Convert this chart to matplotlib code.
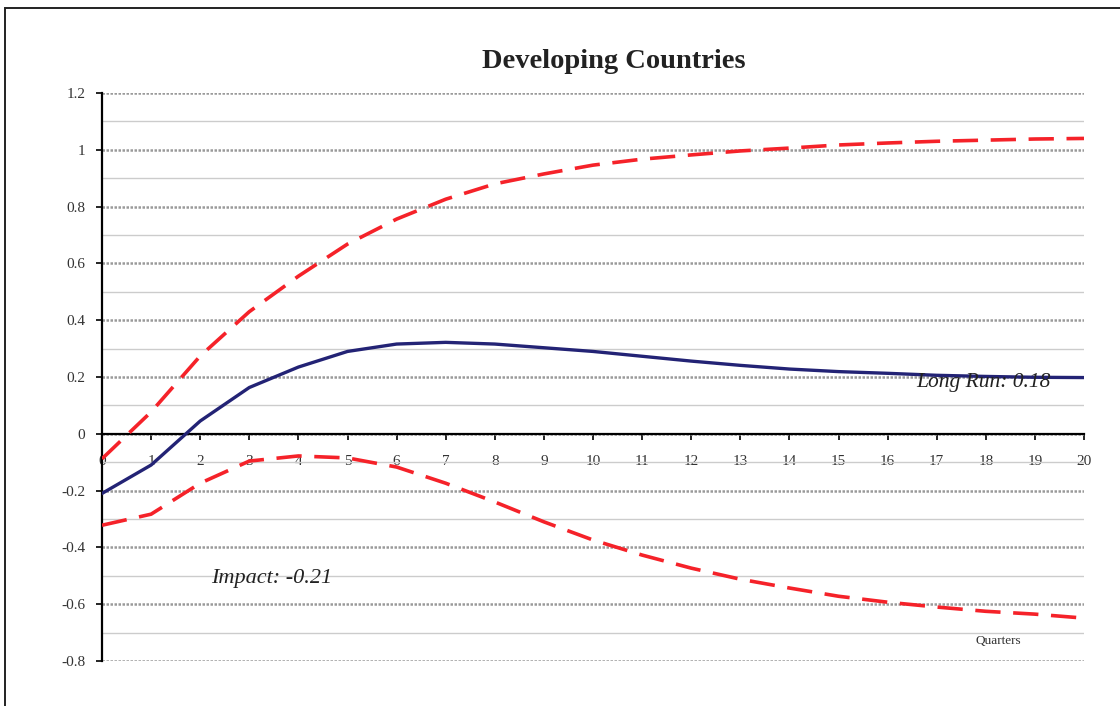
import matplotlib
matplotlib.use("Agg")
import numpy as np
import matplotlib.pyplot as plt
from matplotlib.patches import Rectangle

plt.rcParams['font.family'] = ['Liberation Serif', 'DejaVu Serif']

# quarters after the shock
quarters = list(range(21))
# point estimate
response = [-0.21, -0.11, 0.045, 0.163, 0.235, 0.29, 0.316, 0.322, 0.316, 0.303, 0.29,
            0.273, 0.256, 0.241, 0.228, 0.219, 0.213, 0.206, 0.202, 0.199, 0.198]
# confidence bands
upper = [-0.088, 0.077, 0.274, 0.43, 0.555, 0.668, 0.756, 0.826, 0.88, 0.915, 0.946,
         0.967, 0.982, 0.996, 1.006, 1.017, 1.024, 1.03, 1.034, 1.038, 1.04]
lower = [-0.322, -0.283, -0.174, -0.096, -0.078, -0.085, -0.117, -0.174, -0.24, -0.31, -0.374,
         -0.427, -0.473, -0.512, -0.543, -0.572, -0.593, -0.61, -0.625, -0.635, -0.649]

fig = plt.figure(figsize=(11.2, 7.06), dpi=100)
W, H = 1120, 706
ax = fig.add_axes([102 / W, 1 - 661 / H, (1084 - 102) / W, (661 - 93) / H])

# outer frame of the chart area
fig.patches.append(Rectangle((5 / W, -0.1), 1.2, 1 - 8 / H + 0.1, transform=fig.transFigure,
                             fill=False, edgecolor='#222222', linewidth=1.4))

ax.set_xlim(0, 20)
ax.set_ylim(-0.8, 1.2)

# grid: dotted majors, thin solid minors
ax.set_yticks(np.arange(-0.8, 1.21, 0.2))
ax.set_yticks(np.arange(-0.7, 1.2, 0.2), minor=True)
ax.set_yticklabels(['-0.8', '-0.6', '-0.4', '-0.2', '0', '0.2', '0.4', '0.6', '0.8', '1', '1.2'])
ax.grid(axis='y', which='major', color='#9a9a9a', linestyle=(0, (1, 0.6)), linewidth=1.8, zorder=0)
ax.grid(axis='y', which='minor', color='#cccccc', linestyle='-', linewidth=1.0, zorder=0)
ax.tick_params(axis='y', which='minor', length=0)
ax.tick_params(axis='y', which='major', length=4, width=1.2, direction='out', pad=8,
               labelsize=11, labelcolor='#333333')

ax.set_xticks(quarters)
ax.tick_params(axis='x', length=4, width=1.2, direction='out', pad=11,
               labelsize=11, labelcolor='#333333')

for s in ['top', 'right']:
    ax.spines[s].set_visible(False)
ax.spines['bottom'].set_position(('data', 0))
ax.spines['bottom'].set_linewidth(1.6)
ax.spines['left'].set_linewidth(1.6)

ax.plot(quarters, upper, color='#f52229', linewidth=2.6, dashes=(7, 3.5), zorder=3)
ax.plot(quarters, lower, color='#f52229', linewidth=2.6, dashes=(7, 3.5), zorder=3)
ax.plot(quarters, response, color='#232375', linewidth=2.4, zorder=4)

# title sits a little right of the axes centre in the original
fig.text(614 / W, 1 - 61 / H, 'Developing Countries', fontsize=20.5, fontweight='bold',
         color='#222222', ha='center', va='center')

ax.text(17.95, 0.18, 'Long Run: 0.18', fontsize=15.5, style='italic', color='#222222',
        ha='center', va='center', zorder=5)
ax.text(3.45, -0.51, 'Impact: -0.21', fontsize=16, style='italic', color='#222222',
        ha='center', va='center', zorder=5)
ax.text(18.25, -0.73, 'Quarters', fontsize=9.5, color='#333333', ha='center', va='center')

fig.savefig('out.png', dpi=100)
